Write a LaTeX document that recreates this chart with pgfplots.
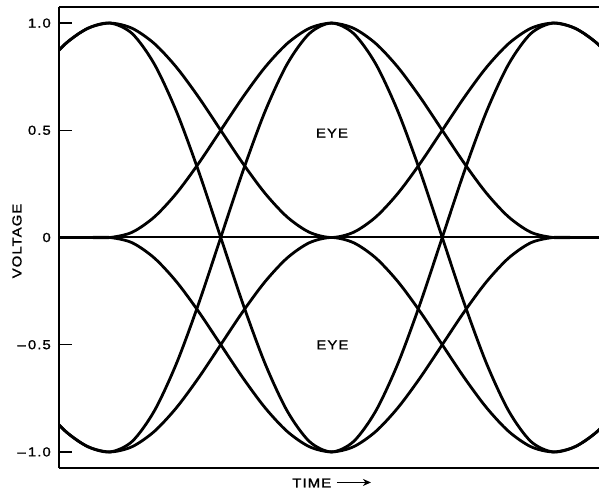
\documentclass[border=0pt]{standalone}
\usepackage{fontspec}
\setmainfont{Liberation Sans}[FakeStretch=1.15, LetterSpace=8, FakeBold=1.2]
\usepackage{pgfplots}
\usepackage{pgfplotstable}
\pgfplotsset{compat=1.18}
\usetikzlibrary{arrows.meta}

% Traces of the eye pattern, time in symbol intervals (sampling at t = 0, 1, 2)
% a: 0 -> +1 -> -1 -> +1 -> 0   (b = mirror of a)
% c: 0 -> +1 ->  0 -> +1 -> 0   (e = mirror of c)
% d: 0 ->  0 -> +1 ->  0 -> 0   (f = mirror of d)
\pgfplotstableread{
t     a        b        c        e        d        f
-0.3  0.7939  -0.7939   0.7939  -0.7939   0.0000   0.0000
-0.2  0.9045  -0.9045   0.9045  -0.9045   0.0000   0.0000
-0.1  0.9755  -0.9755   0.9755  -0.9755   0.0000   0.0000
 0.0  1.0000  -1.0000   1.0000  -1.0000   0.0000   0.0000
 0.1  0.9511  -0.9511   0.9755  -0.9755   0.0245  -0.0245
 0.2  0.8090  -0.8090   0.9045  -0.9045   0.0955  -0.0955
 0.3  0.5878  -0.5878   0.7939  -0.7939   0.2061  -0.2061
 0.4  0.3090  -0.3090   0.6545  -0.6545   0.3455  -0.3455
 0.5  0.0000   0.0000   0.5000  -0.5000   0.5000  -0.5000
 0.6 -0.3090   0.3090   0.3455  -0.3455   0.6545  -0.6545
 0.7 -0.5878   0.5878   0.2061  -0.2061   0.7939  -0.7939
 0.8 -0.8090   0.8090   0.0955  -0.0955   0.9045  -0.9045
 0.9 -0.9511   0.9511   0.0245  -0.0245   0.9755  -0.9755
 1.0 -1.0000   1.0000   0.0000   0.0000   1.0000  -1.0000
 1.1 -0.9511   0.9511   0.0245  -0.0245   0.9755  -0.9755
 1.2 -0.8090   0.8090   0.0955  -0.0955   0.9045  -0.9045
 1.3 -0.5878   0.5878   0.2061  -0.2061   0.7939  -0.7939
 1.4 -0.3090   0.3090   0.3455  -0.3455   0.6545  -0.6545
 1.5  0.0000   0.0000   0.5000  -0.5000   0.5000  -0.5000
 1.6  0.3090  -0.3090   0.6545  -0.6545   0.3455  -0.3455
 1.7  0.5878  -0.5878   0.7939  -0.7939   0.2061  -0.2061
 1.8  0.8090  -0.8090   0.9045  -0.9045   0.0955  -0.0955
 1.9  0.9511  -0.9511   0.9755  -0.9755   0.0245  -0.0245
 2.0  1.0000  -1.0000   1.0000  -1.0000   0.0000   0.0000
 2.1  0.9755  -0.9755   0.9755  -0.9755   0.0000   0.0000
 2.2  0.9045  -0.9045   0.9045  -0.9045   0.0000   0.0000
 2.3  0.7939  -0.7939   0.7939  -0.7939   0.0000   0.0000
}\eyedata

\begin{document}
\begin{tikzpicture}[eye/.style={black, line width=2.8pt, smooth, no markers}]
\path[use as bounding box] (-59pt,-24pt) rectangle (540pt,468pt);
\begin{axis}[
  at={(0,0)}, anchor=south west,
  scale only axis,
  width=540pt, height=461pt,
  xmin=-0.2302, xmax=2.2077,
  ymin=-1.075, ymax=1.075,
  axis x line*=box, axis y line*=left,
  axis line style={line width=2pt},
  xtick=\empty,
  ytick={-1,-0.5,0,0.5,1},
  yticklabels={\textendash\,1.0, \textendash\,0.5, 0, 0.5, 1.0},
  tick align=inside,
  major tick length=13pt,
  every tick/.style={black, line width=1.5pt},
  font=\fontsize{13}{15}\selectfont,
  yticklabel style={inner sep=0pt, xshift=-8pt},
  ylabel={VOLTAGE},
  ylabel style={at={(axis description cs:-0.0778,0.4924)}, anchor=center},
  xlabel={TIME\hspace{5pt}\tikz[baseline=-5pt]\draw[line width=1.5pt,-{Stealth[length=8pt,width=7pt]}] (0,0)--(34pt,0);},
  xlabel style={at={(axis description cs:0.5056,-0.0325)}, anchor=center},
]
\addplot[eye] table[x=t, y=a] {\eyedata};
\addplot[eye] table[x=t, y=b] {\eyedata};
\addplot[eye] table[x=t, y=c] {\eyedata};
\addplot[eye] table[x=t, y=e] {\eyedata};
\addplot[eye] table[x=t, y=d] {\eyedata};
\addplot[eye] table[x=t, y=f] {\eyedata};
% zero reference line
\addplot[black, line width=2pt, sharp plot, no markers] coordinates {(-0.3,0) (2.3,0)};
\node at (axis cs:1.002,0.487) {EYE};
\node at (axis cs:1.004,-0.501) {EYE};
\end{axis}
\end{tikzpicture}
\end{document}
